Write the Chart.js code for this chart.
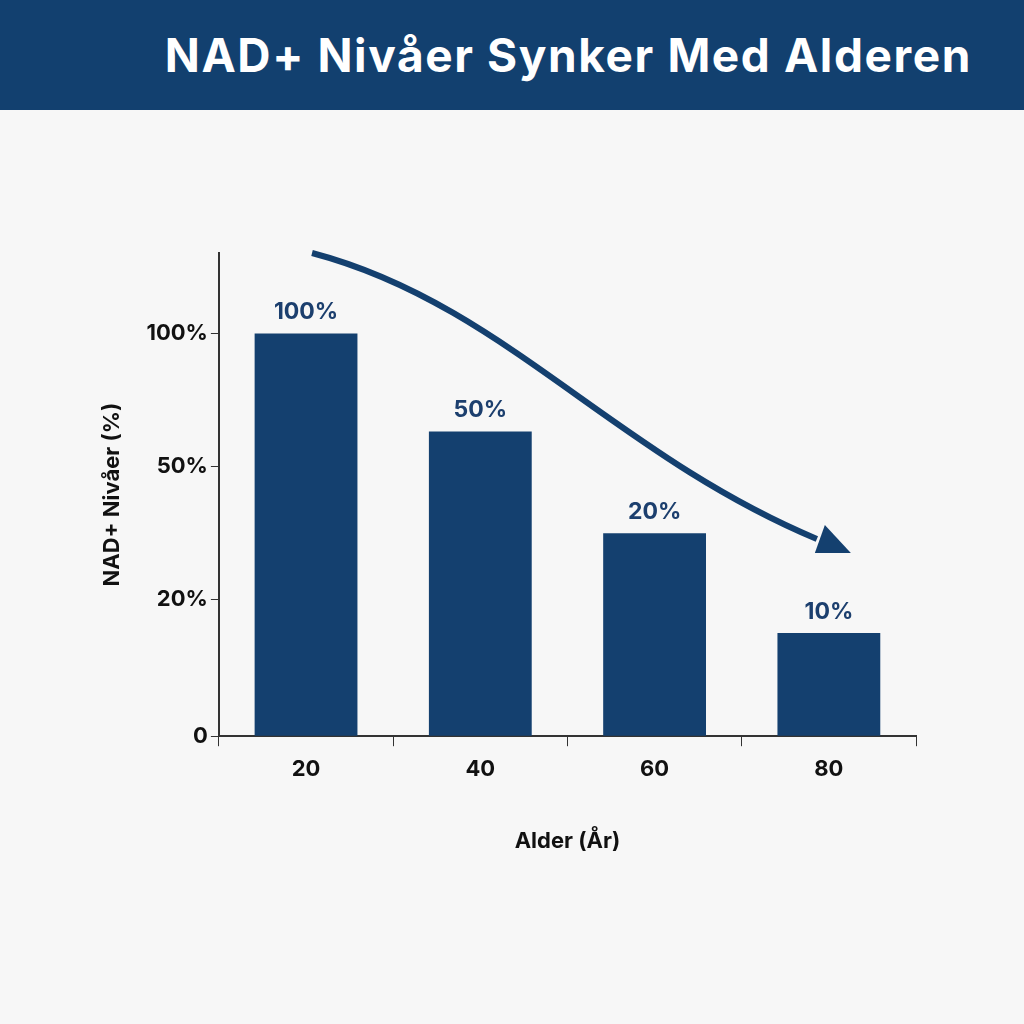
<!DOCTYPE html><html><head><meta charset="utf-8">
<script src="https://cdn.jsdelivr.net/npm/chart.js@4"></script>
<style>html,body{margin:0;background:#f7f7f7;font-family:Inter,"Open Sans",sans-serif}
#t{height:110px;background:#12406f;color:#fff;font:bold 46px Inter,sans-serif;letter-spacing:1.6px;display:flex;align-items:center;justify-content:flex-end;padding-right:52px;box-sizing:border-box}
#w{width:1024px;height:914px}</style></head><body>
<div id="t">NAD+ Nivåer Synker Med Alderen</div>
<div id="w"><canvas id="c"></canvas></div>
<script>
const categories=["20","40","60","80"];
const barHeights=[100,75.7,50.4,25.6];
const barLabels=["100%","50%","20%","10%"];
const tickPositions=[0,34,67,100];
const tickLabels=["0","20%","50%","100%"];
const blue="#14406f";
Chart.defaults.font.family="Inter";
const extras={id:'extras',afterDatasetsDraw(ch){const c=ch.ctx,m=ch.getDatasetMeta(0);
c.save();c.fillStyle="#1c3f6e";c.font="bold 23px Inter";c.textAlign="center";c.textBaseline="bottom";
m.data.forEach((b,i)=>c.fillText(barLabels[i],b.x,b.y-10));
const x=ch.scales.x,y=ch.scales.y;
const sx=x.getPixelForValue(0)+6,sy=y.getPixelForValue(120),ex=x.getPixelForValue(3)+18,ey=y.getPixelForValue(46);
c.strokeStyle=blue;c.lineWidth=6;c.beginPath();c.moveTo(sx,sy);
c.bezierCurveTo(sx+190,sy+50,sx+300,sy+200,ex-30,ey-12);c.stroke();
c.fillStyle=blue;c.beginPath();c.moveTo(ex+4,ey+2);c.lineTo(ex-22,ey-26);c.lineTo(ex-32,ey+2);c.closePath();c.fill();c.restore();}};
new Chart(document.getElementById('c'),{type:'bar',
data:{labels:categories,datasets:[{data:barHeights,backgroundColor:blue,barPercentage:0.59,categoryPercentage:1}]},
options:{responsive:true,maintainAspectRatio:false,animation:false,
layout:{padding:{left:95,right:108,top:143,bottom:165}},
plugins:{legend:{display:false},tooltip:{enabled:false}},
scales:{
x:{grid:{offset:true,drawOnChartArea:false,color:"#333",tickLength:10},border:{color:"#333",width:2},
ticks:{color:"#111",font:{size:22,weight:'bold'},padding:10},
title:{display:true,text:"Alder (År)",color:"#111",font:{size:22,weight:'bold'},padding:{top:36}}},
y:{min:0,max:120,afterBuildTicks:s=>{s.ticks=tickPositions.map(v=>({value:v}));},
grid:{drawOnChartArea:false,color:"#333",tickLength:8},border:{color:"#333",width:2},
ticks:{color:"#111",font:{size:22,weight:'bold'},callback:(v)=>tickLabels[tickPositions.indexOf(v)]},
title:{display:true,text:"NAD+ Nivåer (%)",color:"#111",font:{size:22,weight:'bold'},padding:{bottom:18}}}}},
plugins:[extras]});
</script></body></html>
